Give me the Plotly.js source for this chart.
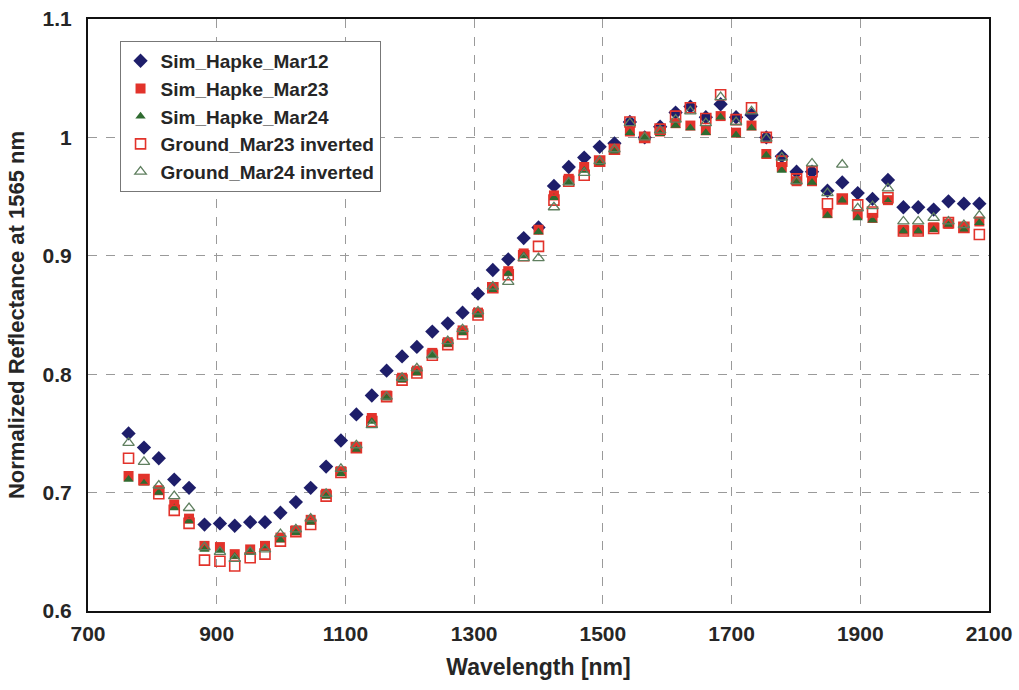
<!DOCTYPE html>
<html>
<head>
<meta charset="utf-8">
<script src="https://cdn.plot.ly/plotly-3.0.1.min.js"></script>
<style>html,body{margin:0;padding:0;background:#fff;}#chart{width:1019px;height:690px;}</style>
</head>
<body>
<div id="chart"></div>
<script>
const wavelength = [763, 787, 810, 834, 857, 881, 905, 928, 952, 975, 999, 1023, 1046, 1070, 1093, 1117, 1141, 1164, 1188, 1211, 1235, 1259, 1282, 1306, 1329, 1353, 1377, 1400, 1424, 1447, 1471, 1495, 1518, 1542, 1565, 1589, 1613, 1636, 1660, 1683, 1707, 1731, 1754, 1778, 1801, 1825, 1849, 1872, 1896, 1919, 1943, 1967, 1990, 2014, 2037, 2061, 2085];

const simHapkeMar12 = [0.750, 0.738, 0.729, 0.711, 0.704, 0.673, 0.674, 0.672, 0.675, 0.675, 0.683, 0.692, 0.704, 0.722, 0.744, 0.766, 0.782, 0.803, 0.815, 0.823, 0.836, 0.843, 0.852, 0.868, 0.888, 0.897, 0.915, 0.924, 0.959, 0.975, 0.983, 0.992, 0.995, 1.013, 1.000, 1.009, 1.021, 1.026, 1.017, 1.028, 1.017, 1.019, 1.000, 0.984, 0.971, 0.971, 0.955, 0.962, 0.953, 0.948, 0.964, 0.941, 0.941, 0.939, 0.946, 0.944, 0.944];

const simHapkeMar23 = [0.714, 0.711, 0.702, 0.690, 0.678, 0.655, 0.654, 0.648, 0.652, 0.655, 0.662, 0.668, 0.677, 0.699, 0.718, 0.738, 0.763, 0.782, 0.797, 0.803, 0.818, 0.827, 0.837, 0.852, 0.873, 0.887, 0.902, 0.922, 0.951, 0.965, 0.975, 0.980, 0.990, 1.005, 1.000, 1.005, 1.012, 1.010, 1.006, 1.018, 1.004, 1.010, 0.986, 0.975, 0.963, 0.963, 0.936, 0.948, 0.935, 0.932, 0.947, 0.922, 0.922, 0.924, 0.927, 0.924, 0.929];

const simHapkeMar24 = [0.711, 0.708, 0.700, 0.687, 0.676, 0.652, 0.651, 0.646, 0.650, 0.653, 0.660, 0.666, 0.675, 0.697, 0.716, 0.736, 0.760, 0.780, 0.795, 0.801, 0.816, 0.825, 0.835, 0.850, 0.871, 0.885, 0.900, 0.920, 0.949, 0.962, 0.972, 0.978, 0.988, 1.004, 1.000, 1.003, 1.010, 1.008, 1.004, 1.017, 1.002, 1.008, 0.985, 0.972, 0.962, 0.962, 0.934, 0.947, 0.932, 0.930, 0.946, 0.921, 0.921, 0.922, 0.926, 0.922, 0.928];

const groundMar23 = [0.729, 0.711, 0.699, 0.685, 0.674, 0.643, 0.642, 0.638, 0.645, 0.648, 0.659, 0.667, 0.673, 0.697, 0.717, 0.738, 0.760, 0.781, 0.795, 0.801, 0.816, 0.825, 0.834, 0.850, 0.873, 0.884, 0.900, 0.908, 0.947, 0.963, 0.968, 0.980, 0.990, 1.013, 1.000, 1.007, 1.018, 1.025, 1.016, 1.036, 1.015, 1.025, 1.000, 0.980, 0.965, 0.971, 0.944, 0.948, 0.943, 0.937, 0.949, 0.921, 0.921, 0.923, 0.928, 0.924, 0.918];

const groundMar24 = [0.742, 0.726, 0.706, 0.697, 0.687, 0.654, 0.650, 0.644, 0.650, 0.652, 0.665, 0.669, 0.678, 0.699, 0.720, 0.740, 0.757, 0.781, 0.797, 0.805, 0.816, 0.828, 0.838, 0.853, 0.874, 0.878, 0.898, 0.898, 0.941, 0.962, 0.970, 0.980, 0.990, 1.012, 1.000, 1.006, 1.015, 1.022, 1.012, 1.034, 1.013, 1.022, 0.999, 0.983, 0.963, 0.978, 0.953, 0.977, 0.940, 0.942, 0.957, 0.929, 0.929, 0.932, 0.929, 0.926, 0.934];

const seriesNames = ["Sim_Hapke_Mar12", "Sim_Hapke_Mar23", "Sim_Hapke_Mar24", "Ground_Mar23 inverted", "Ground_Mar24 inverted"];
const xTicks = [700, 900, 1100, 1300, 1500, 1700, 1900, 2100];
const yTicks = [0.6, 0.7, 0.8, 0.9, 1.0, 1.1];
const yTickText = ["0.6", "0.7", "0.8", "0.9", "1", "1.1"];

const traces = [
  {x: wavelength, y: simHapkeMar12, name: seriesNames[0], type: 'scatter', mode: 'markers',
   marker: {symbol: 'diamond', size: 11, color: '#1e1e6a'}},
  {x: wavelength, y: simHapkeMar23, name: seriesNames[1], type: 'scatter', mode: 'markers',
   marker: {symbol: 'square', size: 10, color: '#e2332b'}},
  {x: wavelength, y: simHapkeMar24, name: seriesNames[2], type: 'scatter', mode: 'markers',
   marker: {symbol: 'triangle-up', size: 9, color: '#2f6b30'}},
  {x: wavelength, y: groundMar23, name: seriesNames[3], type: 'scatter', mode: 'markers',
   marker: {symbol: 'square-open', size: 10, color: '#e2332b', line: {width: 1.6}}},
  {x: wavelength, y: groundMar24, name: seriesNames[4], type: 'scatter', mode: 'markers',
   marker: {symbol: 'triangle-up-open', size: 10, color: '#5f7f5f', line: {width: 1.3}}}
];

const fontFam = '"Liberation Sans", Arial, sans-serif';

const layout = {
  width: 1019, height: 690,
  margin: {l: 88, r: 30, t: 19, b: 79},
  paper_bgcolor: '#ffffff', plot_bgcolor: '#ffffff',
  font: {family: fontFam, size: 20, color: '#262626', weight: 'bold'},
  showlegend: true,
  legend: {x: 0.035, y: 0.963, xanchor: 'left', yanchor: 'top', itemwidth: 30,
    bgcolor: '#ffffff', bordercolor: '#777777', borderwidth: 1,
    font: {family: fontFam, size: 19, color: '#262626', weight: 'bold'}, tracegroupgap: 0, itemsizing: 'trace'},
  xaxis: {range: [700, 2100], tickvals: xTicks, ticktext: xTicks.map(String),
    showgrid: true, gridcolor: '#9a9a9a', griddash: 'dash', gridwidth: 1,
    showline: true, linecolor: '#111111', linewidth: 2, mirror: true,
    ticks: '', zeroline: false, ticklabelstandoff: 3, tickfont: {size: 21, weight: 'bold', family: fontFam},
    title: {text: 'Wavelength [nm]', font: {size: 23, family: fontFam, color: '#262626', weight: 'bold'}, standoff: 15}},
  yaxis: {range: [0.6, 1.1], tickvals: yTicks, ticktext: yTickText,
    showgrid: true, gridcolor: '#9a9a9a', griddash: 'dash', gridwidth: 1,
    showline: true, linecolor: '#111111', linewidth: 2, mirror: true,
    ticks: '', zeroline: false, ticklabelstandoff: 10, tickfont: {size: 21, weight: 'bold', family: fontFam},
    title: {text: 'Normalized Reflectance at 1565 nm', font: {size: 22, family: fontFam, color: '#262626', weight: 'bold'}, standoff: 12}}
};

Plotly.newPlot('chart', traces, layout, {displayModeBar: false, staticPlot: true});
</script>
</body>
</html>
